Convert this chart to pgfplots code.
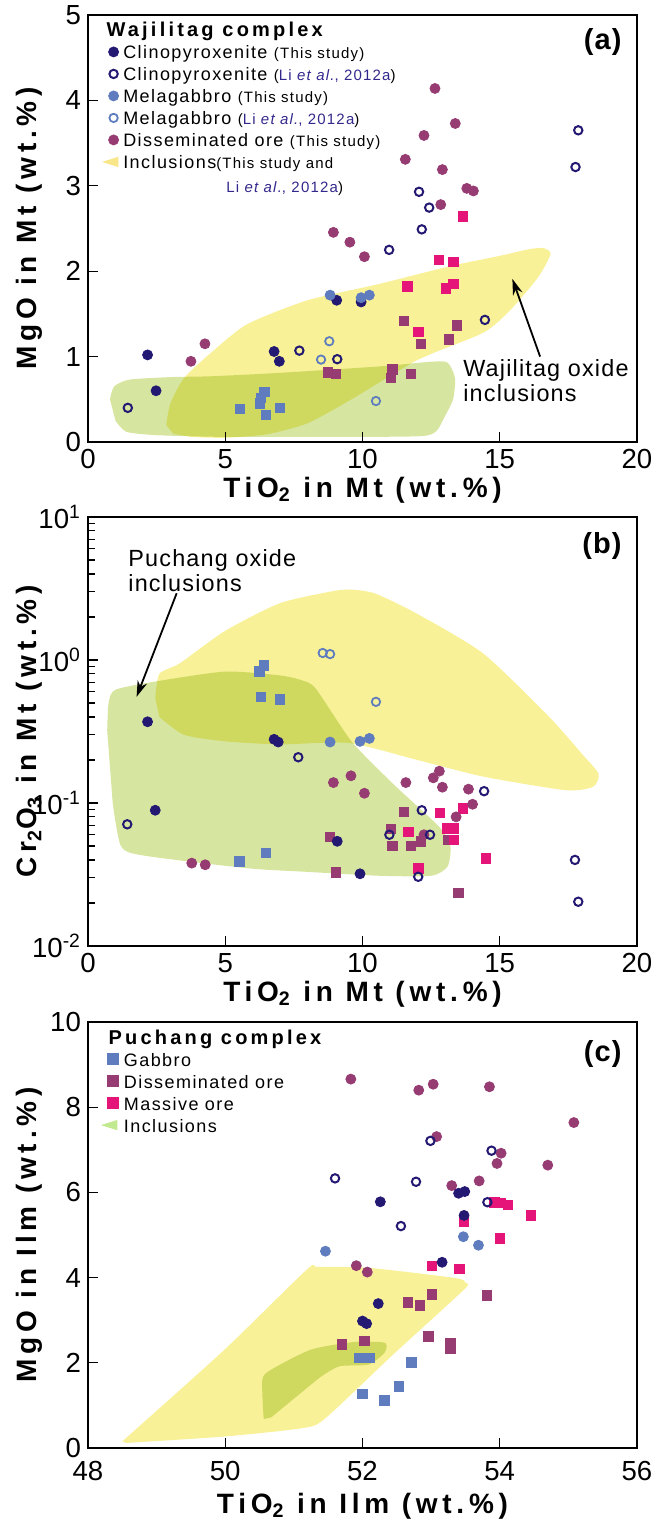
\documentclass[border=0pt]{standalone}
\usepackage{fontspec}
\setmainfont{Liberation Sans}
\newfontfamily\bfam[LetterSpace=17]{Liberation Sans}
\newfontfamily\tfam[LetterSpace=16]{Liberation Sans}
\newfontfamily\pfam[LetterSpace=4]{Liberation Sans}
\newfontfamily\lfam[LetterSpace=8]{Liberation Sans}
\newfontfamily\afam[LetterSpace=5]{Liberation Sans}
\usepackage{pgfplots}
\pgfplotsset{compat=1.18}
\usetikzlibrary{arrows.meta}

\definecolor{navy}{RGB}{35,25,115}
\definecolor{steel}{RGB}{95,125,190}
\definecolor{plum}{RGB}{150,60,115}
\definecolor{magen}{RGB}{228,20,120}
\definecolor{yel}{RGB}{248,241,152}
\definecolor{grn}{RGB}{214,230,160}
\definecolor{refblue}{RGB}{50,40,140}

\newcommand{\ls}{\rule[-2.2pt]{0pt}{10.7pt}}
\newcommand{\sm}[1]{{\fontsize{7.5}{8}\selectfont #1}}
\newcommand{\li}{{\color{refblue}Li \textit{et al.}, 2012a}}
\newcommand{\lbox}{\path[draw=none,fill=none] (-5.2pt,-3pt) rectangle (3pt,3pt);}

\tikzset{plabel/.style={anchor=north east, font=\pfam\bfseries\fontsize{14.5}{14.5}\selectfont, inner sep=0pt}}

\pgfplotsset{
  panel/.style={
    scale only axis, width=274.5pt,
    axis line style={line width=1.4pt},
    tick style={black, line width=0.6pt},
    major tick length=5pt, minor tick length=3.5pt,
    tick align=inside, tick pos=left,
    /pgf/number format/assume math mode=true,
    ticklabel style={font=\fontsize{13.8}{14}\selectfont},
    every axis x label/.style={at={([yshift=-27.5pt]axis description cs:0.5,0)}, anchor=base, font=\bfam\bfseries\fontsize{14}{14}\selectfont},
    every axis y label/.style={at={([xshift=-25.5pt]axis description cs:0,0.5)}, rotate=90, anchor=base, font=\bfam\bfseries\fontsize{14}{14}\selectfont},
    legend cell align=left,
  },
  cpxF/.style={only marks, mark=*, mark size=2.5pt, mark options={draw=navy, fill=navy}, forget plot},
  cpxO/.style={only marks, mark=o, mark size=2.1pt, mark options={draw=navy, line width=1pt}, forget plot},
  melF/.style={only marks, mark=*, mark size=2.5pt, mark options={draw=steel, fill=steel}, forget plot},
  melO/.style={only marks, mark=o, mark size=2.1pt, mark options={draw=steel, line width=0.9pt}, forget plot},
  disC/.style={only marks, mark=*, mark size=2.5pt, mark options={draw=plum, fill=plum}, forget plot},
  gabS/.style={only marks, mark=square*, mark size=2.35pt, mark options={draw=steel, fill=steel}, forget plot},
  disS/.style={only marks, mark=square*, mark size=2.35pt, mark options={draw=plum, fill=plum}, forget plot},
  masS/.style={only marks, mark=square*, mark size=2.35pt, mark options={draw=magen, fill=magen}, forget plot},
  yreg/.style={draw=none, fill=yel, blend mode=multiply, forget plot, smooth, tension=0.4, mark=none},
  greg/.style={draw=none, fill=grn, blend mode=multiply, forget plot, smooth, tension=0.4, mark=none},
}

\begin{document}
\begin{tikzpicture}
%% ---------------- (a) ----------------
\begin{axis}[panel, at={(44pt,-221pt)}, anchor=south west, height=213.5pt,
  xmin=0, xmax=20, ymin=0, ymax=5, xtick={0,5,...,20}, ytick={0,1,...,5},
  xlabel={TiO\textsubscript{2}\ in\ Mt\ (wt.\%)}, ylabel={MgO\ in\ Mt\ (wt.\%)},
  legend style={at={(rel axis cs:0,1)}, anchor=north west, xshift=7.3pt, yshift=-1.75pt,
    draw=none, fill=none, inner sep=0pt, row sep=0pt, column sep=1.35pt,
    nodes={inner sep=0.5pt}, font=\lfam\fontsize{9}{10}\selectfont}]
\addplot[greg] coordinates {(0.8,0.5)(0.95,0.65)(1.5,0.73)(3,0.76)(4.5,0.77)(7,0.81)(10.6,0.885)(12.5,0.94)(13.1,0.93)(13.37,0.75)(13.3,0.5)(13.0,0.3)(12.7,0.13)(12.2,0.07)(10,0.06)(5,0.06)(2.5,0.08)(1.4,0.12)(1.0,0.25)} -- cycle;
\addplot[yreg] coordinates {(2.85,0.2)(3.0,0.45)(3.5,0.75)(4.5,1.05)(5.8,1.38)(8,1.66)(10.6,1.85)(13.2,2.06)(15,2.18)(16.1,2.26)(16.6,2.27)(16.85,2.2)(16.4,1.93)(15.4,1.55)(14.4,1.28)(12,0.96)(9.6,0.5)(8,0.22)(6.5,0.09)(5,0.05)(3.8,0.06)(3.1,0.1)} -- cycle;
\addplot[gabS] coordinates {(5.54,0.385)(6.42,0.585)(6.30,0.52)(6.27,0.45)(6.47,0.32)(6.99,0.40)};
\addplot[disS] coordinates {(8.75,0.815)(9.03,0.80)(11.51,1.415)(13.43,1.365)(12.13,1.15)(13.15,1.20)(11.09,0.85)(11.03,0.75)(11.76,0.80)};
\addplot[masS] coordinates {(13.65,2.64)(12.79,2.13)(13.31,2.11)(11.63,1.82)(13.03,1.80)(13.31,1.855)(12.03,1.29)};
\addplot[cpxF] coordinates {(2.17,1.02)(2.48,0.60)(6.78,1.06)(6.97,0.945)(9.06,1.66)(9.95,1.64)};
\addplot[melF] coordinates {(8.82,1.72)(9.95,1.69)(10.25,1.72)};
\addplot[disC] coordinates {(8.94,2.455)(9.54,2.34)(10.07,2.17)(4.26,1.15)(3.75,0.945)(12.64,4.14)(13.38,3.73)(12.24,3.59)(11.56,3.31)(12.91,3.19)(13.80,2.97)(14.04,2.94)(12.85,2.78)};
\addplot[cpxO] coordinates {(1.45,0.40)(7.70,1.07)(9.08,0.97)(17.86,3.65)(17.76,3.22)(12.06,2.93)(12.43,2.745)(12.16,2.49)(10.97,2.25)(14.46,1.43)};
\addplot[melO] coordinates {(8.79,1.18)(8.49,0.965)(10.49,0.48)};
% legend
\addlegendimage{empty legend}
\addlegendentry{\ls\hspace*{-8.35pt}{\tfam\bfseries\fontsize{10}{10}\selectfont Wajilitag\ complex}}
\addlegendimage{legend image code/.code={\lbox \fill[navy] (0,0) circle (2.5pt);}}
\addlegendentry{\ls Clinopyroxenite \sm{(This study)}}
\addlegendimage{legend image code/.code={\lbox \draw[navy, line width=1pt] (0,0) circle (2.1pt);}}
\addlegendentry{\ls Clinopyroxenite \sm{(\li)}}
\addlegendimage{legend image code/.code={\lbox \fill[steel] (0,0) circle (2.5pt);}}
\addlegendentry{\ls Melagabbro \sm{(This study)}}
\addlegendimage{legend image code/.code={\lbox \draw[steel, line width=0.9pt] (0,0) circle (2.1pt);}}
\addlegendentry{\ls Melagabbro \sm{(\li)}}
\addlegendimage{legend image code/.code={\lbox \fill[plum] (0,0) circle (2.5pt);}}
\addlegendentry{\ls Disseminated ore \sm{(This study)}}
\addlegendimage{legend image code/.code={\lbox \fill[yel!90!orange] (-5.1pt,0pt) -- (2.2pt,2.3pt) -- (2.2pt,-2.3pt) -- cycle;}}
\addlegendentry{\ls Inclusions\sm{(This study and}}
\node[anchor=base west, inner sep=0pt, font=\lfam\fontsize{7.5}{8}\selectfont] at ([xshift=69pt,yshift=-88.85pt]rel axis cs:0,1) {\li)};
\node[plabel] at ([xshift=-7.5pt,yshift=-6.5pt]rel axis cs:1,1) {(a)};
\node[anchor=base west, inner sep=0pt, font=\afam\fontsize{11.7}{12}\selectfont] at (axis cs:13.66,0.768) {Wajilitag oxide};
\node[anchor=base west, inner sep=0pt, font=\afam\fontsize{11.7}{12}\selectfont] at (axis cs:13.66,0.474) {inclusions};
\draw[-{Stealth[length=8pt,width=5pt]}, line width=0.9pt] (axis cs:16.47,1.0) -- (axis cs:15.46,1.91);
\end{axis}

%% ---------------- (b) ----------------
\begin{axis}[panel, ymode=log, at={(44pt,-473pt)}, anchor=south west, height=214.5pt,
  xmin=0, xmax=20, ymin=0.01, ymax=10, xtick={0,5,...,20}, ytick={0.01,0.1,1,10},
  yticklabels={10\textsuperscript{-2},10\textsuperscript{-1},10\textsuperscript{0},10\textsuperscript{1}},
  minor ytick={0.02,0.03,0.04,0.05,0.06,0.07,0.08,0.09,0.2,0.3,0.4,0.5,0.6,0.7,0.8,0.9,2,3,4,5,6,7,8,9},
  xlabel={TiO\textsubscript{2}\ in\ Mt\ (wt.\%)}, ylabel={Cr\textsubscript{2}O\textsubscript{3}\ in\ Mt\ (wt.\%)}]
\addplot[greg] coordinates {(0.7,0.32)(0.75,0.5)(1.0,0.62)(2.5,0.71)(5.0,0.83)(7.0,0.78)(7.8,0.72)(8.3,0.63)(9.6,0.27)(11.1,0.137)(12.8,0.068)(13.2,0.05)(13.1,0.036)(12.5,0.031)(10.6,0.031)(8,0.033)(5.8,0.035)(2.0,0.043)(1.2,0.05)(0.9,0.1)} -- cycle;
\addplot[yreg] coordinates {(2.45,0.54)(2.6,0.8)(3.35,0.95)(5.0,1.6)(7.0,2.5)(9.0,3.05)(9.7,3.1)(10.5,2.9)(12.0,2.1)(14.4,1.11)(16.8,0.40)(18.0,0.22)(18.6,0.16)(18.4,0.13)(17.4,0.123)(14.4,0.153)(12,0.2)(9.5,0.263)(7,0.257)(5,0.27)(3.5,0.30)(2.6,0.40)} -- cycle;
\addplot[gabS] coordinates {(6.41,0.92)(6.24,0.83)(6.29,0.553)(6.99,0.53)(5.51,0.039)(6.47,0.0446)};
\addplot[disS] coordinates {(8.82,0.058)(9.02,0.0327)(11.51,0.087)(11.03,0.066)(11.09,0.050)(11.76,0.050)(12.13,0.054)(13.13,0.055)(13.49,0.0236)};
\addplot[masS] coordinates {(13.65,0.092)(12.82,0.085)(13.07,0.0666)(13.33,0.0666)(11.67,0.063)(13.33,0.055)(14.49,0.041)(12.03,0.035)};
\addplot[cpxF] coordinates {(2.17,0.37)(6.78,0.279)(6.93,0.267)(2.45,0.089)(9.08,0.054)(9.91,0.032)};
\addplot[melF] coordinates {(8.82,0.267)(9.91,0.27)(10.25,0.283)};
\addplot[disC] coordinates {(8.94,0.139)(9.58,0.155)(10.07,0.117)(3.78,0.038)(4.27,0.037)(11.58,0.139)(12.58,0.150)(12.80,0.167)(12.91,0.129)(13.86,0.125)(14.01,0.098)(13.41,0.080)(12.24,0.060)};
\addplot[cpxO] coordinates {(7.66,0.209)(1.43,0.071)(14.43,0.121)(12.16,0.089)(10.98,0.060)(12.46,0.060)(12.03,0.0305)(17.74,0.040)(17.86,0.0204)};
\addplot[melO] coordinates {(8.55,1.12)(8.82,1.10)(10.49,0.51)};
\node[plabel] at ([xshift=-7.5pt,yshift=-7.5pt]rel axis cs:1,1) {(b)};
\node[anchor=base west, inner sep=0pt, font=\afam\fontsize{11.7}{12}\selectfont] at (axis cs:1.46,4.54) {Puchang oxide};
\node[anchor=base west, inner sep=0pt, font=\afam\fontsize{11.7}{12}\selectfont] at (axis cs:1.46,3.0) {inclusions};
\draw[-{Stealth[length=8pt,width=5pt]}, line width=0.9pt] (axis cs:3.23,2.93) -- (axis cs:1.77,0.553);
\end{axis}

%% ---------------- (c) ----------------
\begin{axis}[panel, at={(44pt,-724pt)}, anchor=south west, height=213pt,
  xmin=48, xmax=56, ymin=0, ymax=10, xtick={48,50,...,56}, ytick={0,2,...,10},
  every axis x label/.append style={at={([yshift=-32.5pt]axis description cs:0.5,0)}},
  xticklabel style={yshift=-3pt},
  xlabel={TiO\textsubscript{2}\ in\ Ilm\ (wt.\%)}, ylabel={MgO\ in\ Ilm\ (wt.\%)},
  legend style={at={(rel axis cs:0,1)}, anchor=north west, xshift=6.8pt, yshift=-1.85pt,
    draw=none, fill=none, inner sep=0pt, row sep=0pt, column sep=2.15pt,
    nodes={inner sep=0.5pt}, font=\lfam\fontsize{9}{10}\selectfont}]
\addplot[yreg] coordinates {(48.56,0.12)(49.99,0.27)(51.14,0.47)(51.46,0.7)(52.45,2.2)(53.48,3.72)(53.5,3.88)(53.35,3.99)(52.09,4.23)(51.35,4.25)(51.19,4.19)(49.99,2.31)(48.6,0.3)(48.5,0.16)} -- cycle;
\addplot[greg] coordinates {(50.56,0.68)(50.54,1.6)(50.67,1.84)(51.25,2.31)(51.88,2.49)(52.3,2.48)(52.35,2.4)(52.32,2.23)(52.09,1.96)(51.67,1.92)(51.40,1.68)(51.04,1.21)(50.67,0.72)} -- cycle;
\addplot[gabS] coordinates {(51.95,2.11)(52.10,2.11)(52.71,2.01)(52.0,1.27)(52.53,1.45)(52.32,1.12)};
\addplot[disS] coordinates {(51.70,2.43)(52.03,2.51)(52.66,3.42)(52.84,3.35)(53.01,3.61)(52.96,2.62)(53.28,2.47)(53.28,2.33)(53.81,3.58)};
\addplot[masS] coordinates {(53.01,4.28)(53.41,4.21)(53.48,5.32)(54.0,4.92)(54.45,5.46)(53.92,5.77)(54.02,5.75)(54.12,5.71)};
\addplot[cpxF] coordinates {(52.23,3.39)(52.0,2.98)(52.06,2.92)(53.16,4.36)(52.26,5.78)(53.40,5.98)(53.49,6.02)(53.48,5.46)};
\addplot[melF] coordinates {(51.46,4.62)(53.47,4.96)(53.69,4.76)};
\addplot[disC] coordinates {(51.83,8.66)(52.82,8.40)(53.03,8.54)(53.85,8.48)(55.08,7.64)(53.08,7.31)(54.02,6.92)(53.96,6.68)(54.70,6.64)(53.30,6.16)(53.70,6.27)(51.91,4.28)(52.07,4.13)};
\addplot[cpxO] coordinates {(52.99,7.21)(53.88,6.98)(51.60,6.33)(52.78,6.25)(52.56,5.21)(53.82,5.77)};
\addlegendimage{empty legend}
\addlegendentry{\ls\hspace*{-7.65pt}{\tfam\bfseries\fontsize{10}{10}\selectfont Puchang\ complex}}
\addlegendimage{legend image code/.code={\lbox \fill[steel] (-2.75pt,-2.75pt) rectangle (2.75pt,2.75pt);}}
\addlegendentry{\ls Gabbro}
\addlegendimage{legend image code/.code={\lbox \fill[plum] (-2.75pt,-2.75pt) rectangle (2.75pt,2.75pt);}}
\addlegendentry{\ls Disseminated ore}
\addlegendimage{legend image code/.code={\lbox \fill[magen] (-2.75pt,-2.75pt) rectangle (2.75pt,2.75pt);}}
\addlegendentry{\ls Massive ore}
\addlegendimage{legend image code/.code={\lbox \fill[grn!90!green] (-5.1pt,0pt) -- (2.2pt,2.3pt) -- (2.2pt,-2.3pt) -- cycle;}}
\addlegendentry{\ls Inclusions}
\node[plabel] at ([xshift=-7.5pt,yshift=-9pt]rel axis cs:1,1) {(c)};
\end{axis}
\pgfresetboundingbox
\path[use as bounding box] (0,0) rectangle (328pt,-761.5pt);
\end{tikzpicture}
\end{document}
